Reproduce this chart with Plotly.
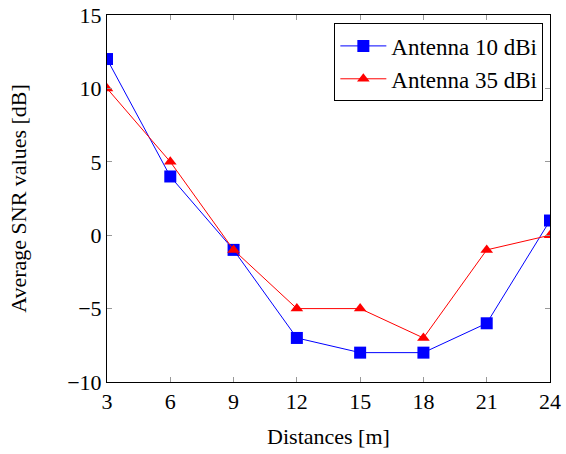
import plotly.graph_objects as go

distances = [3, 6, 9, 12, 15, 18, 21, 24]
snr_10dbi = [12, 4, -1, -7, -8, -8, -6, 1]
snr_35dbi = [10, 5, -1, -5, -5, -7, -1, 0]
x_ticks = [3, 6, 9, 12, 15, 18, 21, 24]
y_ticks = [-10, -5, 0, 5, 10, 15]
y_tick_text = ["\u221210", "\u22125", "0", "5", "10", "15"]

FONT = "Liberation Serif, DejaVu Serif, serif"

fig = go.Figure()
fig.add_trace(go.Scatter(x=distances, y=snr_10dbi, mode="lines+markers",
                         name="Antenna 10 dBi",
                         line=dict(color="#0000ff", width=1),
                         marker=dict(symbol="square", size=12, color="#0000ff")))
fig.add_trace(go.Scatter(x=distances, y=snr_35dbi, mode="lines+markers",
                         name="Antenna 35 dBi",
                         line=dict(color="#ff0000", width=1),
                         marker=dict(symbol="triangle-up", size=11, color="#ff0000")))

axis_common = dict(showgrid=False, zeroline=False, showline=True, mirror="ticks",
                   linecolor="black", linewidth=1, ticks="inside", ticklen=5,
                   tickcolor="#999999", tickwidth=1, automargin=False,
                   tickfont=dict(family=FONT, size=22, color="black"))

fig.update_layout(
    width=566, height=454,
    margin=dict(l=107, r=16, t=15, b=72),
    paper_bgcolor="white", plot_bgcolor="white",
    font=dict(family=FONT, size=22, color="black"),
    xaxis=dict(range=[3, 24], tickvals=x_ticks,
               title=dict(text="Distances [m]", font=dict(family=FONT, size=22)),
               **axis_common),
    yaxis=dict(range=[-10, 15], tickvals=y_ticks, ticktext=y_tick_text,
               title=dict(text="Average SNR values [dB]", font=dict(family=FONT, size=22),
                          standoff=34),
               **axis_common),
    legend=dict(x=0.985, y=0.977, xanchor="right", yanchor="top",
                bordercolor="black", borderwidth=1, bgcolor="white",
                font=dict(family=FONT, size=23), tracegroupgap=0,
                itemwidth=46),
    showlegend=True,
)

fig.write_html("out.html")
